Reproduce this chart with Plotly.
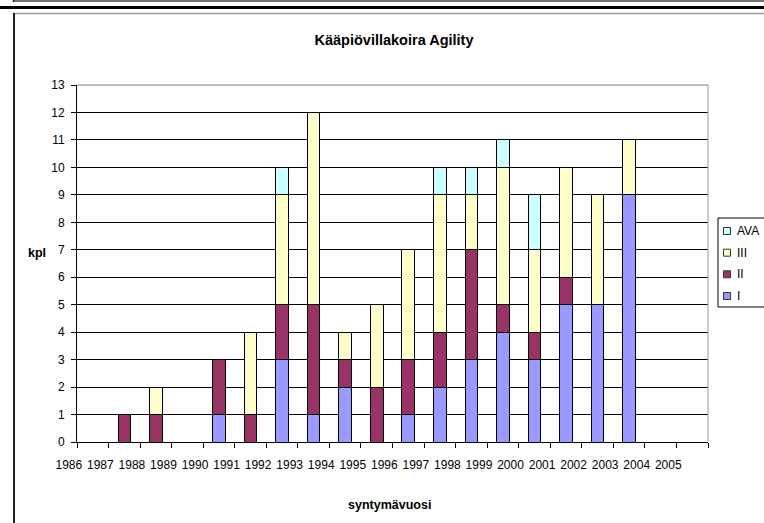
import plotly.graph_objects as go

years = list(range(1986, 2006))
series_names = ["I", "II", "III", "AVA"]
s_I   = [0, 0, 0, 0, 1, 0, 3, 1, 2, 0, 1, 2, 3, 4, 3, 5, 5, 9, 0, 0]
s_II  = [0, 1, 1, 0, 2, 1, 2, 4, 1, 2, 2, 2, 4, 1, 1, 1, 0, 0, 0, 0]
s_III = [0, 0, 1, 0, 0, 3, 4, 7, 1, 3, 4, 5, 2, 5, 3, 4, 4, 2, 0, 0]
s_AVA = [0, 0, 0, 0, 0, 0, 1, 0, 0, 0, 0, 1, 1, 1, 2, 0, 0, 0, 0, 0]
colors = ["#9999FF", "#993366", "#FFFFCC", "#CCFFFF"]
y_ticks = list(range(0, 14))

W, H = 764, 523
PL = 40                        # paper left edge (pixels)
L, R, T, B = 77, 708, 85, 442  # plot area in pixels
FONT = "Arial, Liberation Sans, sans-serif"

def px(x):
    return (x - PL) / (R - PL)

def py(y):
    return (B - y) / (B - T)

fig = go.Figure()
for name, vals, col in zip(series_names, [s_I, s_II, s_III, s_AVA], colors):
    fig.add_trace(go.Bar(
        x=years, y=vals, name=name,
        marker=dict(color=col, line=dict(color="black", width=1)),
        showlegend=False,
    ))

# invisible trace that carries the label axis
fig.add_trace(go.Scatter(x=[years[0]], y=[0], xaxis="x2", yaxis="y2", mode="markers",
                         marker=dict(opacity=0), showlegend=False, hoverinfo="skip"))

xr = [years[0] - 0.5, years[-1] + 0.5]
units_per_px = (xr[1] - xr[0]) / (R - L)
xr2 = [xr[0] - (L - PL) * units_per_px, xr[1]]

fig.update_layout(
    width=W, height=H,
    margin=dict(l=PL, r=W - R, t=T, b=H - B, pad=0),
    paper_bgcolor="white", plot_bgcolor="rgba(0,0,0,0)",
    barmode="stack", bargap=0.6,
    font=dict(family=FONT, size=12, color="black"),
    title=dict(text="<b>Kääpiövillakoira Agility</b>", x=px(394), xref="paper",
               xanchor="center", y=1 - 40 / H, yref="container", yanchor="middle",
               font=dict(size=14.5, family=FONT, color="black")),
    xaxis=dict(domain=[px(L), 1], range=xr, tickmode="array",
               tickvals=[y - 0.5 for y in years] + [years[-1] + 0.5],
               showticklabels=False, ticks="outside", ticklen=5, tickcolor="black",
               showline=True, linecolor="black", linewidth=1, showgrid=False,
               zeroline=False, fixedrange=True),
    xaxis2=dict(domain=[0, 1], range=xr2, anchor="y2", side="bottom",
                tickmode="array", tickvals=[y - 0.76 for y in years],
                ticktext=[str(y) for y in years], ticks="", showgrid=False,
                showline=False, zeroline=False, ticklabelstandoff=14,
                tickfont=dict(size=12, family=FONT, color="black")),
    yaxis=dict(anchor="x", range=[0, 13], tickmode="array", tickvals=y_ticks,
               ticks="outside", ticklen=5, tickcolor="black",
               showline=True, linecolor="black", linewidth=1,
               showgrid=True, gridcolor="black", gridwidth=1, zeroline=False,
               tickfont=dict(size=12, family=FONT, color="black"),
               ticklabelstandoff=4),
    yaxis2=dict(anchor="x2", domain=[0, 1], range=[0, 13], showgrid=False,
                showticklabels=False, showline=False, zeroline=False, ticks=""),
    showlegend=False,
)

shapes = []
# plot area border (grey right/top)
shapes.append(dict(type="line", xref="paper", yref="paper", x0=1, x1=1, y0=0, y1=1,
                   line=dict(color="#999999", width=1)))
shapes.append(dict(type="line", xref="paper", yref="paper", x0=px(L), x1=1, y0=1, y1=1,
                   line=dict(color="#808080", width=1)))
# outer chart frame pieces
shapes.append(dict(type="line", xref="paper", yref="paper", x0=px(13), x1=px(770),
                   y0=py(1), y1=py(1), line=dict(color="#444444", width=1.5)))
shapes.append(dict(type="line", xref="paper", yref="paper", x0=px(13.5), x1=px(13.5),
                   y0=py(-2), y1=py(2), line=dict(color="#222222", width=1.5)))
shapes.append(dict(type="line", xref="paper", yref="paper", x0=px(-5), x1=px(770),
                   y0=py(7.5), y1=py(7.5), line=dict(color="black", width=3)))
shapes.append(dict(type="line", xref="paper", yref="paper", x0=px(13), x1=px(770),
                   y0=py(13.5), y1=py(13.5), line=dict(color="#9a9a9a", width=1.5)))
shapes.append(dict(type="line", xref="paper", yref="paper", x0=px(14), x1=px(14),
                   y0=py(13), y1=py(530), line=dict(color="#222222", width=2)))
# legend box
shapes.append(dict(type="rect", xref="paper", yref="paper", x0=px(718), x1=px(790),
                   y0=py(307), y1=py(218), line=dict(color="black", width=1),
                   fillcolor="white"))
annotations = []
leg_y = [231, 252.7, 274.3, 296]
for i, (name, col) in enumerate(zip(series_names[::-1], colors[::-1])):
    cy = leg_y[i]
    shapes.append(dict(type="rect", xref="paper", yref="paper",
                       x0=px(723.5), x1=px(730.5), y0=py(cy + 3.5), y1=py(cy - 3.5),
                       line=dict(color="#333333", width=1), fillcolor=col))
    annotations.append(dict(text=name, xref="paper", yref="paper", x=px(735), y=py(cy),
                            xanchor="left", yanchor="middle", showarrow=False,
                            font=dict(size=12, family=FONT, color="black")))

annotations.append(dict(text="<b>kpl</b>", xref="paper", yref="paper", x=px(37), y=py(253),
                        xanchor="center", yanchor="middle", showarrow=False,
                        font=dict(size=12.5, family=FONT, color="black")))
annotations.append(dict(text="<b>syntymävuosi</b>", xref="paper", yref="paper", x=px(389),
                        y=py(505), xanchor="center", yanchor="middle", showarrow=False,
                        font=dict(size=12.5, family=FONT, color="black")))

fig.update_layout(shapes=shapes, annotations=annotations)
fig.write_html("out.html", config={"displayModeBar": False},
               post_script="document.body.style.margin='0';")
